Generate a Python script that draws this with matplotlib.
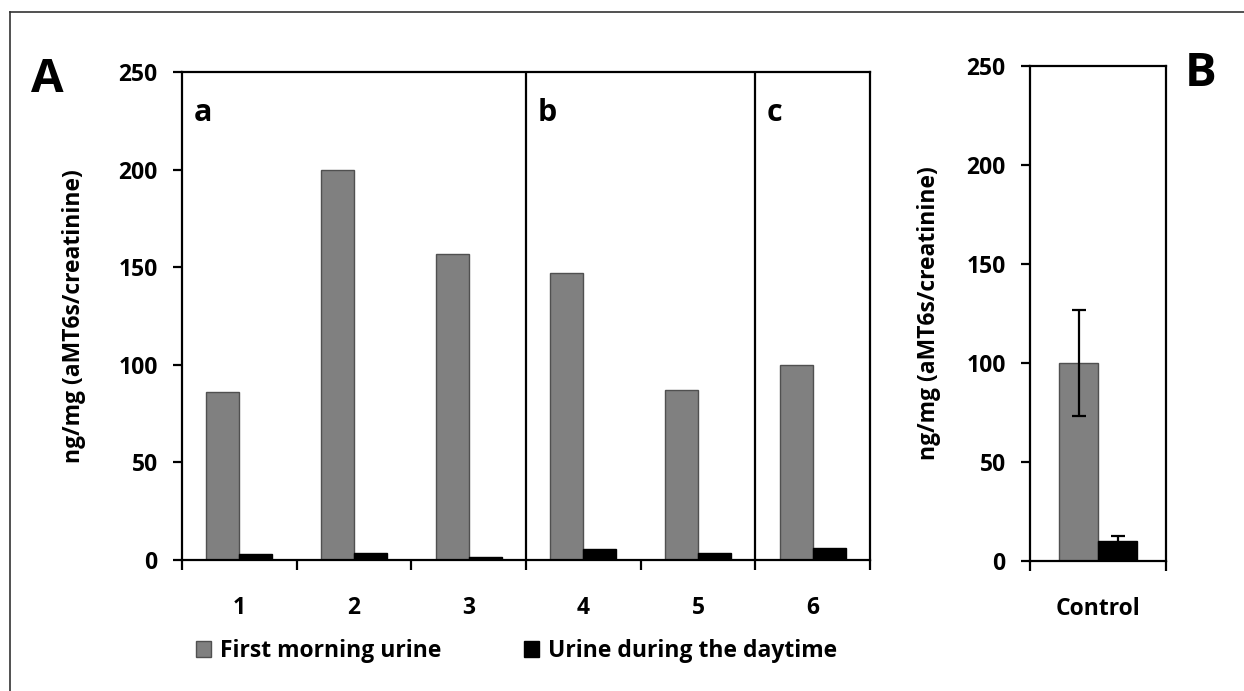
import matplotlib.pyplot as plt
from matplotlib.patches import Patch
from matplotlib.lines import Line2D
import numpy as np

plt.rcParams['font.family'] = ['Open Sans', 'DejaVu Sans']
plt.rcParams['font.weight'] = 'bold'

subjects = ['1', '2', '3', '4', '5', '6']
morning = [86, 200, 157, 147, 87, 100]
daytime = [3, 3.7, 1.5, 5.5, 3.7, 6]
groups = ['a', 'b', 'c']
group_pos = [0.6, 3.6, 5.6]
group_breaks = [3.5, 5.5]

control_label = ['Control']
control_morning = [100]
control_morning_err = [27]
control_daytime = [10]
control_daytime_err = [2.5]

gray = '#808080'
edge = '#505050'
w = 0.287
fs = 16.5

fig = plt.figure(figsize=(12.44, 6.91), dpi=100)

# panel A
ax = fig.add_axes([0.1463, 0.1896, 0.5531, 0.7062])
x = np.arange(1, len(subjects) + 1)
ax.bar(x - w / 2, morning, w, color=gray, edgecolor=edge, linewidth=1)
ax.bar(x + w / 2, daytime, w, color='black', edgecolor='black', linewidth=1)
for b in group_breaks:
    ax.axvline(b, color='black', lw=1.6)
for g, p in zip(groups, group_pos):
    ax.text(p, 229, g, fontsize=22, fontweight='bold', va='center', ha='left')
ax.set_xlim(0.5, 6.5)
ax.set_ylim(0, 250)
ax.set_yticks([0, 50, 100, 150, 200, 250])
ax.set_xticks(x)
ax.set_xticklabels(subjects)
ax.set_xticks(np.arange(0.5, 7, 1), minor=True)
ax.tick_params(axis='x', which='major', length=0, pad=26, labelsize=fs)
ax.tick_params(axis='x', which='minor', length=7, width=1.6, direction='out')
ax.tick_params(axis='y', length=6.5, width=1.6, labelsize=fs, pad=11)
ax.set_ylabel('ng/mg (aMT6s/creatinine)', fontsize=fs, fontweight='bold', labelpad=23)
for s in ax.spines.values():
    s.set_linewidth(1.6)

# panel B
bx = fig.add_axes([0.828, 0.1881, 0.1093, 0.7164])
bx.bar(-w / 2, control_morning, w, color=gray, edgecolor=edge, linewidth=1)
bx.bar(w / 2, control_daytime, w, color='black', edgecolor='black', linewidth=1)
bx.errorbar([-w / 2], control_morning, yerr=control_morning_err, fmt='none',
            ecolor='black', elinewidth=1.6, capsize=5, capthick=1.6)
bx.errorbar([w / 2], control_daytime, yerr=control_daytime_err, fmt='none',
            ecolor='black', elinewidth=1.6, capsize=5, capthick=1.6)
bx.set_xlim(-0.5, 0.5)
bx.set_ylim(0, 250)
bx.set_yticks([0, 50, 100, 150, 200, 250])
bx.set_xticks([0])
bx.set_xticklabels(control_label)
bx.set_xticks([-0.5, 0.5], minor=True)
bx.tick_params(axis='x', which='major', length=0, pad=26, labelsize=fs)
bx.tick_params(axis='x', which='minor', length=7, width=1.6, direction='out')
bx.tick_params(axis='y', length=6.5, width=1.6, labelsize=fs, pad=11)
bx.set_ylabel('ng/mg (aMT6s/creatinine)', fontsize=fs, fontweight='bold', labelpad=18)
for s in bx.spines.values():
    s.set_linewidth(1.6)

fig.text(0.038, 0.885, 'A', fontsize=34, fontweight='bold', ha='center', va='center')
fig.text(0.965, 0.893, 'B', fontsize=34, fontweight='bold', ha='center', va='center')

handles = [Patch(facecolor=gray, edgecolor=edge), Patch(facecolor='black', edgecolor='black')]
fig.legend(handles, ['First morning urine', 'Urine during the daytime'], loc='center',
           bbox_to_anchor=(0.415, 0.058), ncol=2, frameon=False, fontsize=fs,
           handlelength=0.65, handleheight=0.65, handletextpad=0.4, columnspacing=3.6)

# outer frame (top and left edges visible)
fig.add_artist(Line2D([0.008, 1.0], [0.983, 0.983], color='#333333', lw=1.2))
fig.add_artist(Line2D([0.008, 0.008], [0.0, 0.983], color='#333333', lw=1.2))

fig.savefig('out.png', dpi=100)
